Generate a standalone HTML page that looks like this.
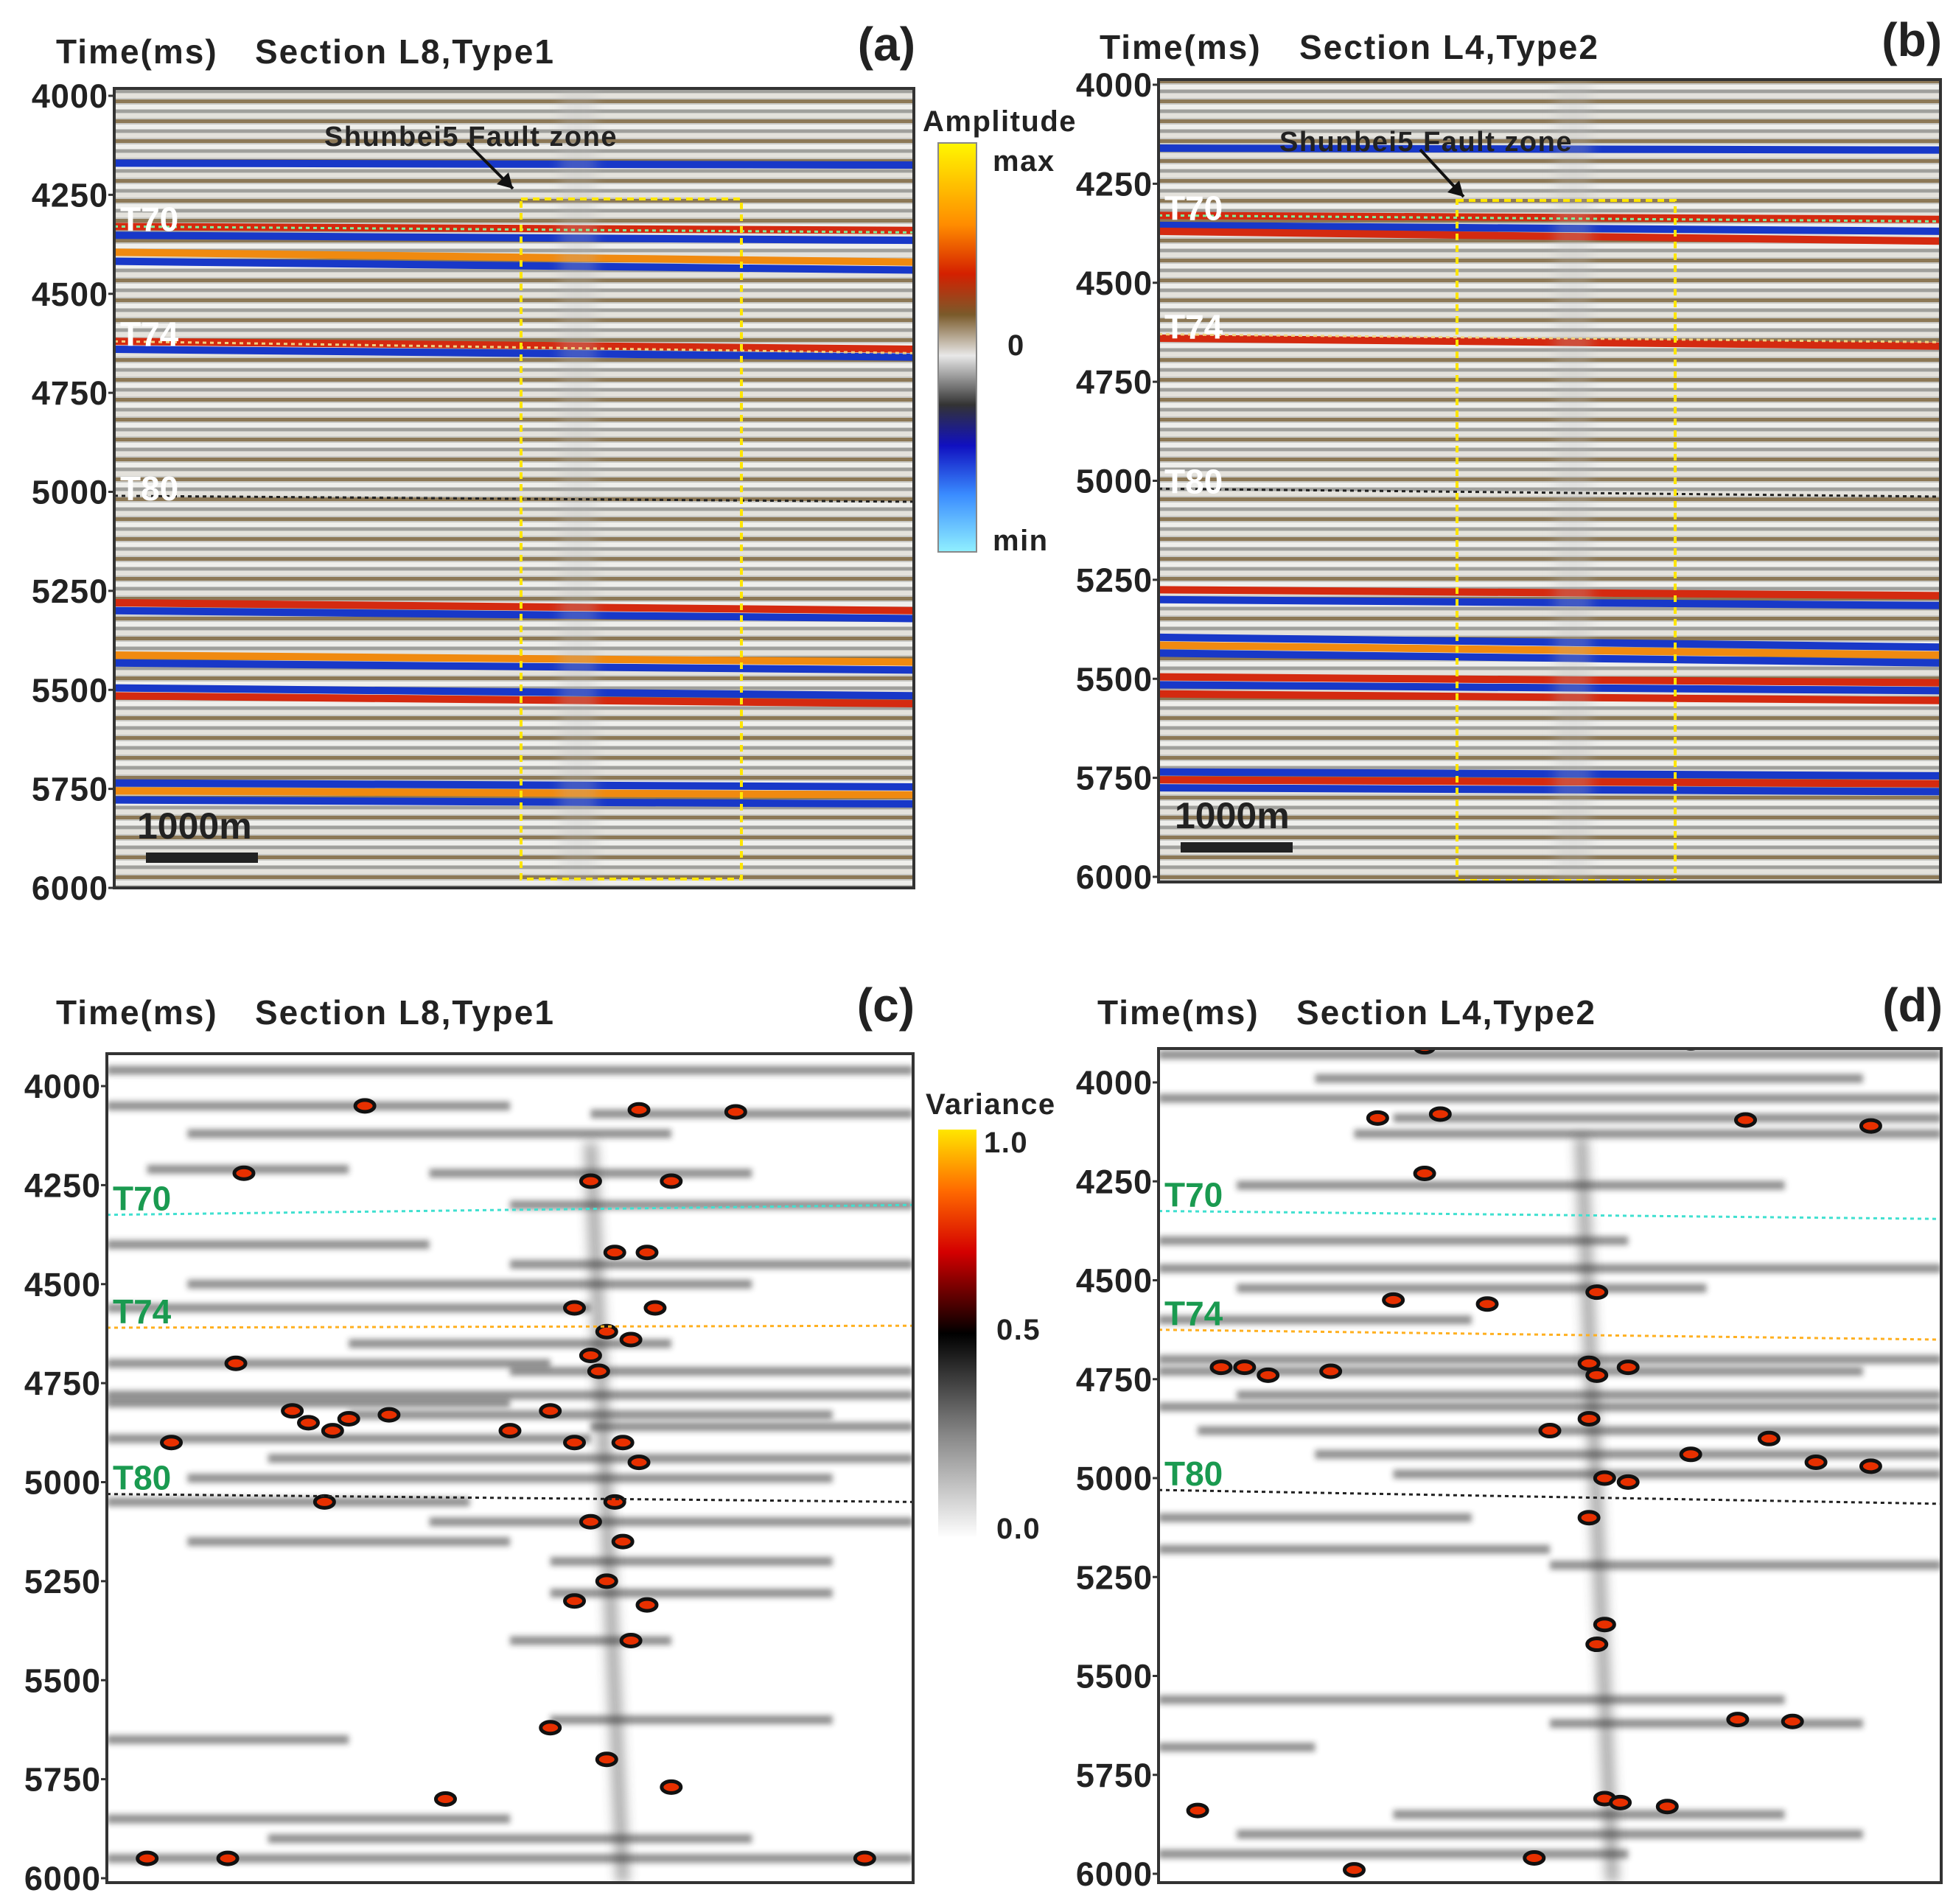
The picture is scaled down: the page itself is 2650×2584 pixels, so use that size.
<!DOCTYPE html>
<html><head><meta charset="utf-8">
<style>
html,body{margin:0;padding:0;background:#fff;}
#root{position:relative;width:2650px;height:2584px;overflow:hidden;font-family:"Liberation Sans",Arial,sans-serif;}
svg{position:absolute;left:0;top:0;}
</style></head>
<body>
<div id="root">
<svg id="fig" width="2650" height="2584" viewBox="0 0 2650 2584">
<defs>
 <linearGradient id="ampGrad" x1="0" y1="0" x2="0" y2="1">
  <stop offset="0" stop-color="#fff700"/><stop offset="0.2" stop-color="#ff8c00"/>
  <stop offset="0.32" stop-color="#d42000"/><stop offset="0.42" stop-color="#7a5a2a"/>
  <stop offset="0.52" stop-color="#e8e8e8"/><stop offset="0.64" stop-color="#333"/>
  <stop offset="0.74" stop-color="#1010c0"/><stop offset="0.86" stop-color="#3a8cff"/>
  <stop offset="1" stop-color="#90f0ff"/></linearGradient>
 <linearGradient id="varGrad" x1="0" y1="0" x2="0" y2="1">
  <stop offset="0" stop-color="#ffe600"/><stop offset="0.15" stop-color="#ff6a00"/>
  <stop offset="0.3" stop-color="#d40000"/><stop offset="0.5" stop-color="#000"/>
  <stop offset="0.75" stop-color="#888"/><stop offset="1" stop-color="#fff"/></linearGradient>
 <pattern id="seisTex" width="40" height="27" patternUnits="userSpaceOnUse">
  <rect width="40" height="27" fill="#c8c8c4"/>
  <rect y="0" width="40" height="5" fill="#8c7856"/>
  <rect y="7" width="40" height="6" fill="#efefec"/>
  <rect y="14" width="40" height="4" fill="#a0a09c"/>
  <rect y="19" width="40" height="6" fill="#e4e2dc"/>
 </pattern>
 <filter id="blur3" x="-0.1" y="-3" width="1.2" height="7"><feGaussianBlur stdDeviation="4"/></filter>
 <filter id="blur6" x="-1" y="-0.1" width="3" height="1.2"><feGaussianBlur stdDeviation="8"/></filter>
</defs>
<g id="panels"></g>
</svg>
</div>
<script>
// ---------- data ----------
const ticks = [4000,4250,4500,4750,5000,5250,5500,5750,6000];
const reflA_t0 = [4170,4330,4352,4395,4418,4620,4640,5280,5300,5412,5432,5495,5515,5735,5755,5778];
const reflA_t1 = [4175,4340,4365,4420,4440,4640,4660,5300,5320,5430,5450,5515,5535,5745,5765,5788];
const reflA_c  = ['b','r','b','o','b','r','b','r','b','o','b','b','r','b','o','b'];
const reflB_t0 = [4160,4330,4355,4370,4640,5275,5300,5395,5415,5435,5495,5515,5538,5735,5755,5775];
const reflB_t1 = [4165,4340,4370,4395,4660,5290,5315,5420,5440,5460,5510,5530,5555,5745,5765,5785];
const reflB_c  = ['b','r','b','r','r','r','b','b','o','b','r','b','r','b','r','b'];
const horizonNames = ['T70','T74','T80'];
const horA = [[4330,4345],[4620,4650],[5010,5025]];
const horB = [[4330,4345],[4630,4650],[5020,5040]];
const horC = [[4325,4300],[4610,4605],[5030,5050]];
const horD = [[4325,4345],[4625,4650],[5030,5065]];
const strC_t = [3960,4050,4070,4120,4210,4220,4300,4400,4450,4500,4560,4650,4700,4720,4780,4800,4830,4860,4890,4940,4990,5050,5100,5150,5200,5280,5400,5600,5650,5850,5900,5950];
const strC_a = [0.0,0.0,0.6,0.1,0.05,0.4,0.5,0.0,0.5,0.1,0.0,0.3,0.0,0.5,0.0,0.0,0.3,0.6,0.0,0.2,0.1,0.0,0.4,0.1,0.55,0.55,0.5,0.55,0.0,0.0,0.2,0.0];
const strC_b = [1.0,0.5,1.0,0.7,0.3,0.8,1.0,0.4,1.0,0.8,0.6,0.7,0.55,1.0,1.0,0.5,0.9,1.0,0.6,1.0,0.9,0.45,1.0,0.5,0.9,0.9,0.7,0.9,0.3,0.5,0.8,1.0];
const blobC_x = [0.32,0.66,0.7,0.78,0.17,0.6,0.63,0.67,0.58,0.62,0.65,0.68,0.16,0.25,0.35,0.28,0.55,0.58,0.64,0.66,0.5,0.08,0.27,0.63,0.6,0.64,0.62,0.58,0.67,0.65,0.55,0.62,0.7,0.94,0.05,0.15,0.42,0.6,0.61,0.23,0.3];
const blobC_t = [4050,4060,4240,4065,4220,4240,4420,4420,4560,4620,4640,4560,4700,4850,4830,4870,4820,4900,4900,4950,4870,4900,5050,5050,5100,5150,5250,5300,5310,5400,5620,5700,5770,5950,5950,5950,5800,4680,4720,4820,4840];
const strD_t = [3930,3990,4040,4090,4130,4260,4400,4470,4520,4600,4700,4730,4790,4820,4880,4940,4990,5100,5180,5220,5560,5620,5680,5850,5900,5950];
const strD_a = [0.0,0.2,0.0,0.3,0.25,0.1,0.0,0.0,0.1,0.0,0.0,0.0,0.1,0.0,0.05,0.2,0.3,0.0,0.0,0.5,0.0,0.5,0.0,0.3,0.1,0.0];
const strD_b = [1.0,0.9,1.0,1.0,1.0,0.8,0.6,1.0,0.7,0.4,1.0,0.9,1.0,1.0,1.0,1.0,1.0,0.4,0.5,1.0,0.8,0.9,0.2,0.8,0.9,0.6];
const blobD_x = [0.34,0.68,0.28,0.36,0.75,0.91,0.34,0.3,0.56,0.42,0.11,0.22,0.55,0.6,0.56,0.68,0.78,0.84,0.91,0.57,0.6,0.55,0.57,0.56,0.57,0.59,0.65,0.05,0.25,0.48,0.08,0.14,0.5,0.55,0.74,0.81];
const blobD_t = [3910,3900,4090,4080,4095,4110,4230,4550,4530,4560,4720,4730,4710,4720,4740,4940,4900,4960,4970,5000,5010,5100,5370,5420,5810,5820,5830,5840,5990,5960,4720,4740,4880,4850,5610,5615];

// ---------- helpers ----------
const NS='http://www.w3.org/2000/svg';
const root=document.getElementById('panels');
function mk(tag,attrs,parent){const e=document.createElementNS(NS,tag);for(const k in attrs)e.setAttribute(k,attrs[k]);(parent||root).appendChild(e);return e;}
function txt(x,y,s,size,fill,anchor,parent,ls){const t=mk('text',{x:x,y:y,'font-size':size,'font-weight':'bold',fill:fill,'text-anchor':anchor||'start','font-family':'Liberation Sans, Arial, sans-serif','letter-spacing':ls||0},parent);t.textContent=s;return t;}
const cols={r:'#d42a10',b:'#1838c8',o:'#f08a10'};

function panel(p){
  const yS=t=>p.y0+(t-4000)/2000*(p.y1-p.y0);
  const xS=f=>p.L+f*(p.R-p.L);
  const g=mk('g',{});
  
  
  const clipId='clip'+p.id;
  const cp=mk('clipPath',{id:clipId},g);mk('rect',{x:p.L,y:p.T,width:p.R-p.L,height:p.B-p.T},cp);
  const inner=mk('g',{'clip-path':'url(#'+clipId+')'},g);
  if(p.kind==='amp'){
    const bg=mk('rect',{x:p.L,y:p.T,width:p.R-p.L,height:p.B-p.T,fill:'url(#seisTex)'},inner);
    
    
    const st=p.refl0;
    for(let i=0;i<st.length;i++){
      const l=mk('line',{x1:p.L,y1:yS(st[i]),x2:p.R,y2:yS(p.refl1[i]),stroke:cols[p.reflc[i]],'stroke-width':10},inner);
      
      
    }
    mk('rect',{x:xS(p.fx)-25,y:p.T,width:50,height:p.B-p.T,fill:'#bbb',opacity:0.25,filter:'url(#blur6)'},inner);
  } else {
    mk('rect',{x:p.L,y:p.T,width:p.R-p.L,height:p.B-p.T,fill:'#fff'},inner);
    for(let i=0;i<p.st.length;i++){
      const x0=xS(p.sa[i]),x1=xS(p.sb[i]);
      const l=mk('rect',{x:x0,y:yS(p.st[i])-6,width:x1-x0,height:12,fill:'#222',opacity:0.5,filter:'url(#blur3)'},inner);
      
      
    }
    mk('line',{x1:xS(p.fx),y1:p.T+120,x2:xS(p.fx+0.04),y2:p.B,stroke:'#333','stroke-width':16,opacity:0.45,filter:'url(#blur6)'},inner);
    for(let i=0;i<p.bx.length;i++){
      const c=mk('ellipse',{cx:xS(p.bx[i]),cy:yS(p.bt[i]),rx:13,ry:8,fill:'#e83000',stroke:'#111','stroke-width':5},inner);
      
      
    }
  }
  const hc=p.kind==='amp'?['#7ff0a0','#f0d080','#222']:['#40e0d0','#ffb020','#222'];
  for(let i=0;i<p.hor.length;i++){
    const h=mk('line',{x1:p.L,y1:yS(p.hor[i][0]),x2:p.R,y2:yS(p.hor[i][1]),stroke:hc[i],'stroke-width':3,'stroke-dasharray':'5 5'},inner);
    
    
    const lt=txt(p.L+8,yS(p.hor[i][0])+(p.kind==='amp'?6:-6),horizonNames[i],46,p.kind==='amp'?'#fff':'#1a9a50','start',g);
    
    
  }
  if(p.box){
    const b=mk('rect',{x:p.box[0],y:p.box[1],width:p.box[2]-p.box[0],height:p.box[3]-p.box[1],fill:'none',stroke:'#ffe600','stroke-width':4,'stroke-dasharray':'9 7'},g);
    
    
    const ft=txt(p.fz[0],p.fz[1],'Shunbei5 Fault zone',38,'#222','start',g,1.5);
    
    
    const ar=mk('line',{x1:p.ar[0],y1:p.ar[1],x2:p.ar[2],y2:p.ar[3],stroke:'#111','stroke-width':4},g);
    
    
    mk('polygon',{points:`${p.ar[2]},${p.ar[3]} ${p.ar[2]-22},${p.ar[3]-6} ${p.ar[2]-6},${p.ar[3]-22}`,fill:'#111'},g);
    const sb=txt(p.sb[0],p.sb[1],'1000m',50,'#222','start',g);
    
    
    const sr=mk('rect',{x:p.sb[2],y:p.sb[3],width:152,height:14,fill:'#222'},g);
    
    
  }
  mk('rect',{x:p.L,y:p.T,width:p.R-p.L,height:p.B-p.T,fill:'none',stroke:'#333','stroke-width':4},g);
  ticks.forEach(t=>{
    mk('line',{x1:p.L-8,y1:yS(t),x2:p.L,y2:yS(t),stroke:'#333','stroke-width':3},g);
    const tl=txt(p.L-8,yS(t)+16,String(t),45,'#222','end',g,1);
    
    
  });
  const a1=txt(p.title[0],p.title[2],'Time(ms)',46,'#222','start',g,2);
  
  
  const a2=txt(p.title[1],p.title[2],p.sec,46,'#222','start',g,2);
  
  
  const a3=txt(p.R+2,p.title[2]-4,p.letter,64,'#222','end',g);
  
  
}

panel({id:'a',name:'panel-a-amplitude',kind:'amp',L:155,R:1240,T:120,B:1205,y0:130,y1:1205,refl0:reflA_t0,refl1:reflA_t1,reflc:reflA_c,hor:horA,fx:0.58,
  box:[707,270,1006,1193],fz:[440,198],ar:[634,194,696,256],sb:[186,1138,198,1157],title:[76,346,86],sec:'Section L8,Type1',letter:'(a)'});
panel({id:'b',name:'panel-b-amplitude',kind:'amp',L:1572,R:2633,T:108,B:1197,y0:115,y1:1190,refl0:reflB_t0,refl1:reflB_t1,reflc:reflB_c,hor:horB,fx:0.53,
  box:[1977,272,2273,1195],fz:[1736,205],ar:[1927,203,1986,267],sb:[1594,1124,1602,1143],title:[1492,1763,80],sec:'Section L4,Type2',letter:'(b)'});
panel({id:'c',name:'panel-c-variance',kind:'var',L:145,R:1239,T:1430,B:2555,y0:1474,y1:2549,st:strC_t,sa:strC_a,sb:strC_b,bx:blobC_x,bt:blobC_t,hor:horC,fx:0.6,
  title:[76,346,1390],sec:'Section L8,Type1',letter:'(c)'});
panel({id:'d',name:'panel-d-variance',kind:'var',L:1572,R:2634,T:1423,B:2555,y0:1469,y1:2543,st:strD_t,sa:strD_a,sb:strD_b,bx:blobD_x,bt:blobD_t,hor:horD,fx:0.54,
  title:[1489,1759,1390],sec:'Section L4,Type2',letter:'(d)'});

const cb1=mk('rect',{x:1273,y:194,width:52,height:555,fill:'url(#ampGrad)',stroke:'#888','stroke-width':2});


[['Amplitude',1252,178,'amplitude-colorbar-title'],['max',1347,232,'colorbar-max'],['0',1367,482,'colorbar-zero'],['min',1347,747,'colorbar-min']].forEach(a=>{
  const t=txt(a[1],a[2],a[0],40,'#222','start',null,1.5);
  
  
});
const cb2=mk('rect',{x:1273,y:1533,width:52,height:554,fill:'url(#varGrad)'});


[['Variance',1256,1512,'variance-colorbar-title'],['1.0',1335,1564,'colorbar-1'],['0.5',1352,1818,'colorbar-05'],['0.0',1352,2088,'colorbar-0']].forEach(a=>{
  const t=txt(a[1],a[2],a[0],40,'#222','start',null,1.5);
  
  
});
</script>
</body></html>
